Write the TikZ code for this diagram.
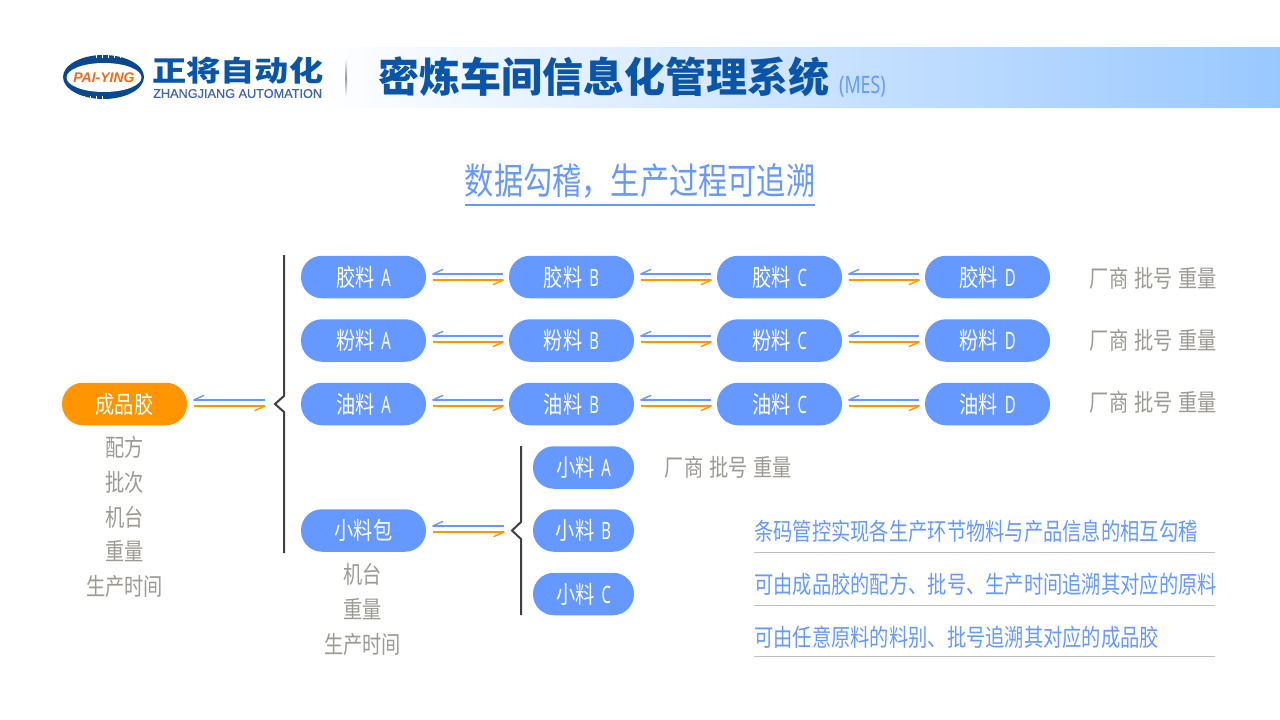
\documentclass[tikz,border=0pt]{standalone}
\usepackage{fontspec}
\setmainfont{Liberation Sans}
\newfontfamily\cjk[FakeStretch=0.8]{Noto Sans CJK SC}
\newfontfamily\cjkbrand[FakeStretch=1.2]{Noto Sans CJK SC}
\newfontfamily\cjkhead[FakeStretch=1.0]{Noto Sans CJK SC}
\newfontfamily\latn[FakeStretch=0.62]{Noto Sans}
\newfontfamily\mesfont[FakeStretch=0.74]{Noto Sans}
\newfontfamily\brandlat[FakeBold=0.6]{Liberation Sans}
\definecolor{pillblue}{HTML}{6699FF}
\definecolor{pillorange}{HTML}{FF9500}
\definecolor{greytext}{HTML}{9C9A92}
\definecolor{bracegrey}{HTML}{404040}
\definecolor{headblue}{HTML}{0A55A8}
\definecolor{rulegrey}{HTML}{BFBFBF}
\definecolor{bandend}{HTML}{99C8FF}
\definecolor{logoorange}{HTML}{EE6A1A}
\definecolor{brandsub}{HTML}{4064AC}
\tikzset{
 x=1pt,y=-1pt,
 pill/.style={rounded corners=21pt,minimum width=125pt,minimum height=42.5pt,fill=pillblue,text=white,inner sep=0pt,font=\cjk\fontsize{24}{24}\selectfont},
 smallpill/.style={pill,minimum width=101pt},
 orangepill/.style={pill,fill=pillorange},
 grey/.style={text=greytext,inner sep=0pt,font=\cjk\fontsize{24}{24}\selectfont},
 note/.style={text=pillblue,inner sep=0pt,anchor=west,font=\cjk\fontsize{24.1}{24.1}\selectfont},
 back/.style={draw=pillblue,line width=2pt},
 forth/.style={draw=pillorange,line width=2pt},
 barb/.style={line width=1.4pt,line cap=round},
 bracel/.style={draw=bracegrey,line width=2pt},
 rulel/.style={draw=rulegrey,line width=.8pt}
}
% #1 left node, #2 right node, #3 upward shift of the pair's centre
\newcommand{\pairarrows}[3]{%
 \draw[back] ([xshift=6.5pt,yshift=#3+3pt]#1.east) -- ([xshift=-5.5pt,yshift=#3+3pt]#2.west);
 \draw[back,barb] ([xshift=6.5pt,yshift=#3+3pt]#1.east) -- ([xshift=16.5pt,yshift=#3+7.5pt]#1.east);
 \draw[forth] ([xshift=6.5pt,yshift=#3-3pt]#1.east) -- ([xshift=-5.5pt,yshift=#3-3pt]#2.west);
 \draw[forth,barb] ([xshift=-5.5pt,yshift=#3-3pt]#2.west) -- ([xshift=-15.5pt,yshift=#3-7.5pt]#2.west);}
\newcommand{\grouptext}{厂商\hspace{6pt}批号\hspace{6pt}重量}
\begin{document}
\begin{tikzpicture}
\useasboundingbox (0,0) rectangle (1280,720);
\fill[white] (0,0) rectangle (1280,720);
% header
\shade[left color=white,right color=bandend] (320,47) rectangle (1280,107);
\fill[headblue!85!black] (103.5,77) ellipse [x radius=40.5,y radius=22];
\fill[white] (104,77.5) ellipse [x radius=37.5,y radius=14.5];
\foreach \x in {96,102,108,114,120} \draw[white,line width=1pt] (\x,54) -- (\x,58);
\foreach \x in {84,90,96,102} \draw[white,line width=1pt] (\x,95.5) -- (\x,100);
\node[inner sep=0pt,text=logoorange,font=\bfseries\itshape\fontsize{14}{14}\selectfont] (logo) at (104,78) {PAI-YING};
\node[inner sep=0pt,text=headblue,anchor=west,font=\cjkbrand\bfseries\fontsize{28.5}{28.5}\selectfont] (brand) at (152,71) {正将自动化};
\node[inner sep=0pt,text=brandsub,anchor=west,font=\brandlat\fontsize{12.7}{12.7}\selectfont] (brand2) at (153,93.5) {ZHANGJIANG AUTOMATION};
\shade[top color=white,bottom color=white,middle color=gray!80] (345.5,58) rectangle (347,97);
\node[inner sep=0pt,text=headblue,anchor=west,font=\cjkhead\bfseries\fontsize{41}{41}\selectfont] (head) at (378,77) {密炼车间信息化管理系统};
\node[inner sep=0pt,text=pillblue,anchor=west,font=\mesfont\fontsize{24}{24}\selectfont] (mes) at (839,87) {(MES)};
% title
\node[inner sep=0pt,text=pillblue,font=\cjk\fontsize{36.5}{36.5}\selectfont] (title) at (640,181) {数据勾稽，生产过程可追溯};
\coordinate (tl) at (465,205); \coordinate (tr) at (815,205);
\draw[pillblue,line width=1.2pt] (tl) -- (tr);
% pills
\foreach \n/\t/\y/\s in {j/胶料/277/0pt,f/粉料/340.5/1.5pt,y/油料/404/1pt}{
 \node[pill] (\n A) at (363.5,\y) {\t\hspace{7pt}{\latn A}};
 \node[pill] (\n B) at (571.5,\y) {\t\hspace{7pt}{\latn B}};
 \node[pill] (\n C) at (779.5,\y) {\t\hspace{7pt}{\latn C}};
 \node[pill] (\n D) at (987.5,\y) {\t\hspace{7pt}{\latn D}};
 \pairarrows{\n A}{\n B}{\s}
 \pairarrows{\n B}{\n C}{\s}
 \pairarrows{\n C}{\n D}{\s}
}
\node[grey] (gj) at (1153.5,278) {\grouptext};
\node[grey] (gf) at (1153.5,340) {\grouptext};
\node[grey] (gy) at (1153.5,402) {\grouptext};
\node[orangepill] (prod) at (124.5,404) {成品胶};
\node[pill] (bag) at (363.5,530.5) {小料包};
\node[smallpill] (sA) at (583.5,467.5) {小料\hspace{7pt}{\latn A}};
\node[smallpill] (sB) at (583.5,530.5) {小料\hspace{7pt}{\latn B}};
\node[smallpill] (sC) at (583.5,594) {小料\hspace{7pt}{\latn C}};
\node[grey] (gs) at (728.5,467) {\grouptext};
% braces
\coordinate (b1) at (270.5,404);
\coordinate (b2) at (509.5,530.5);
\draw[bracel] (284,255) -- (284,396) -- (275,404) -- (284,412) -- (284,553);
\draw[bracel] (521,446) -- (521,522) -- (512,530.5) -- (521,539) -- (521,615);
\pairarrows{prod}{b1}{1pt}
\pairarrows{bag}{b2}{1.5pt}
% grey lists
\foreach \t/\y/\n in {配方/447/a,批次/482/b,机台/517/c,重量/551/d,生产时间/586/e}
 \node[grey] (p\n) at (124.5,\y) {\t};
\foreach \t/\y/\n in {机台/574/a,重量/609/b,生产时间/644/c}
 \node[grey] (q\n) at (362.5,\y) {\t};
% notes
\node[note] (n1) at (754,531) {条码管控实现各生产环节物料与产品信息的相互勾稽};
\node[note] (n2) at (754,584) {可由成品胶的配方、批号、生产时间追溯其对应的原料};
\node[note] (n3) at (754,637) {可由任意原料的料别、批号追溯其对应的成品胶};
\coordinate (l1a) at (754,552.5); \coordinate (l1b) at (1215,552.5);
\coordinate (l2a) at (754,605.5); \coordinate (l2b) at (1215,605.5);
\coordinate (l3a) at (754,656.5); \coordinate (l3b) at (1215,656.5);
\draw[rulel] (l1a) -- (l1b);
\draw[rulel] (l2a) -- (l2b);
\draw[rulel] (l3a) -- (l3b);
\end{tikzpicture}
\end{document}
